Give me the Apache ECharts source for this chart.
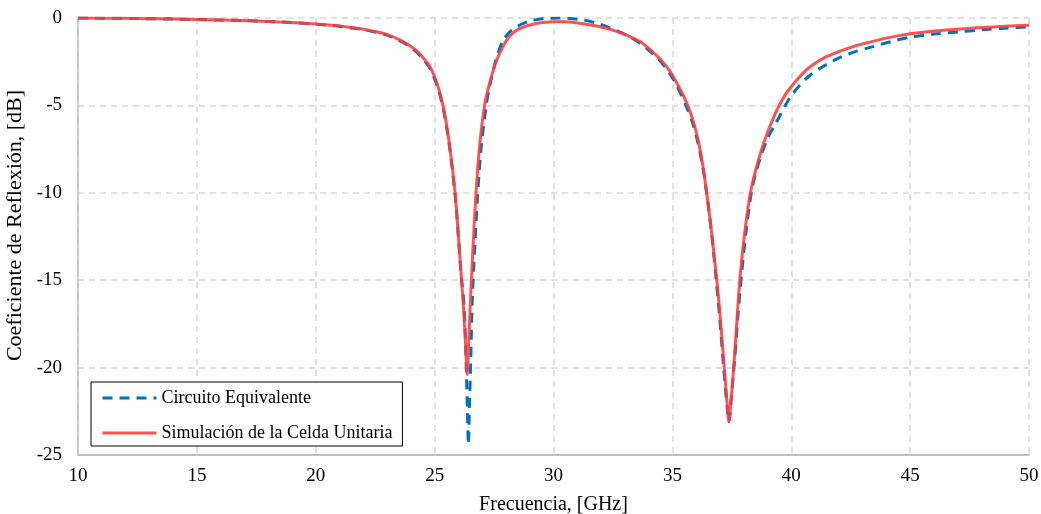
<!DOCTYPE html>
<html>
<head>
<meta charset="utf-8">
<script src="https://cdn.jsdelivr.net/npm/echarts@6/dist/echarts.min.js"></script>
<style>html,body{margin:0;padding:0;background:#fff}#c{width:1041px;height:514px}</style>
</head>
<body>
<div id="c"></div>
<script>
// Frequency (GHz) and reflection coefficient (dB)
var freqCirc = [10, 11, 12, 13, 14, 15, 16, 17, 18, 19, 20, 20.7, 21.4, 22, 22.5, 23, 23.4, 23.8, 24.2, 24.5, 24.8, 25.1, 25.35, 25.6, 25.86, 26.0, 26.11, 26.24, 26.32, 26.38, 26.42, 26.46, 26.52, 26.58, 26.68, 26.8, 26.95, 27.15, 27.3, 27.6, 27.89, 28.2, 28.59, 29.0, 29.6, 30.27, 30.8, 31.25, 31.9, 32.52, 33.1, 33.64, 34.1, 34.48, 34.85, 35.18, 35.6, 35.85, 36.05, 36.25, 36.4, 36.65, 36.83, 37.0, 37.15, 37.3, 37.38, 37.46, 37.62, 37.76, 37.9, 38.1, 38.32, 38.5, 38.75, 39.0, 39.25, 39.5, 39.75, 40.0, 40.37, 40.8, 41.3, 41.77, 42.05, 42.7, 43.44, 44.2, 45, 46, 47, 48, 49, 50];
var dbCirc   = [0, -0.01, -0.02, -0.04, -0.06, -0.09, -0.12, -0.15, -0.2, -0.26, -0.35, -0.43, -0.55, -0.66, -0.8, -0.98, -1.2, -1.5, -1.9, -2.33, -2.88, -3.85, -5.1, -7.1, -10.1, -12.5, -14.6, -16.5, -19.5, -22.5, -24.4, -22.5, -19.5, -16.3, -13.3, -10.3, -7.5, -5.2, -4.0, -2.3, -1.26, -0.75, -0.4, -0.17, -0.03, 0, -0.04, -0.11, -0.33, -0.65, -1.0, -1.45, -1.95, -2.45, -3.1, -3.85, -5.1, -6.0, -7.0, -8.3, -9.6, -12.3, -14.8, -17.3, -19.9, -22.2, -23.1, -22.0, -19.5, -17.0, -14.8, -12.2, -10.0, -8.9, -7.8, -6.9, -6.25, -5.65, -5.0, -4.45, -3.83, -3.26, -2.8, -2.45, -2.25, -1.92, -1.64, -1.35, -1.1, -0.92, -0.8, -0.68, -0.58, -0.5];

var freqSim = [10, 11, 12, 13, 14, 15, 16, 17, 18, 19, 20, 20.7, 21.4, 22, 22.5, 23, 23.4, 23.8, 24.2, 24.5, 24.8, 25.1, 25.35, 25.6, 25.86, 26.0, 26.11, 26.2, 26.3, 26.37, 26.44, 26.51, 26.6, 26.74, 26.9, 27.1, 27.26, 27.61, 28.03, 28.3, 28.59, 29.3, 30.0, 30.5, 31.1, 31.8, 32.5, 33.1, 33.64, 34.1, 34.48, 34.85, 35.18, 35.45, 35.67, 35.9, 36.1, 36.3, 36.44, 36.65, 36.86, 37.0, 37.17, 37.3, 37.38, 37.46, 37.59, 37.72, 37.84, 38.05, 38.28, 38.5, 38.75, 39.0, 39.25, 39.5, 39.75, 40.0, 40.25, 40.5, 40.79, 41.1, 41.5, 42, 42.5, 43, 44, 45, 46, 47, 48, 49, 50];
var dbSim   = [0, -0.01, -0.02, -0.04, -0.06, -0.09, -0.12, -0.15, -0.2, -0.26, -0.34, -0.42, -0.53, -0.64, -0.78, -0.95, -1.16, -1.45, -1.83, -2.25, -2.78, -3.74, -5.0, -7.0, -10.0, -12.5, -14.6, -16.3, -18.6, -20.4, -18.3, -16.1, -13.5, -10.0, -7.2, -5.0, -4.0, -2.4, -1.26, -0.85, -0.59, -0.3, -0.21, -0.22, -0.3, -0.46, -0.69, -1.0, -1.35, -1.85, -2.35, -2.95, -3.7, -4.4, -5.1, -6.0, -7.1, -8.6, -10.0, -12.3, -14.9, -16.9, -19.8, -22.0, -23.1, -22.0, -19.8, -17.2, -14.9, -12.2, -10.0, -8.72, -7.54, -6.55, -5.71, -4.98, -4.38, -3.93, -3.52, -3.15, -2.8, -2.5, -2.2, -1.92, -1.68, -1.48, -1.15, -0.9, -0.75, -0.64, -0.55, -0.47, -0.41];

var seriesNames = ['Circuito Equivalente', 'Simulación de la Celda Unitaria'];
var xTitle = 'Frecuencia, [GHz]';
var yTitle = 'Coeficiente de Reflexión, [dB]';

function pairs(xs, ys) { return xs.map(function (x, i) { return [x, ys[i]]; }); }

var font = 'Liberation Serif, Times New Roman, serif';
var chart = echarts.init(document.getElementById('c'), null, {renderer: 'canvas'});
chart.setOption({
  animation: false,
  backgroundColor: '#fff',
  grid: {left: 78, right: 12, top: 18, bottom: 59, containLabel: false, outerBoundsMode: 'none'},
  legend: {
    orient: 'vertical', left: 91, top: 382,
    backgroundColor: '#fff', borderColor: '#000', borderWidth: 1,
    padding: [7, 10, 4, 10], itemGap: 17, itemWidth: 54, itemHeight: 18,
    textStyle: {fontFamily: font, fontSize: 18, color: '#000'},
    itemStyle: {opacity: 0},
    lineStyle: {width: 3},
    data: seriesNames
  },
  xAxis: {
    type: 'value', min: 10, max: 50, interval: 5,
    name: xTitle, nameLocation: 'middle', nameGap: 40,
    nameTextStyle: {fontFamily: font, fontSize: 20, color: '#000'},
    axisLine: {show: true, onZero: false, lineStyle: {color: '#bfbfbf', width: 2}},
    axisTick: {show: false},
    axisLabel: {fontFamily: font, fontSize: 19, color: '#000', margin: 12},
    splitLine: {show: true, lineStyle: {color: '#d9d9d9', type: [6, 5], width: 1.5}}
  },
  yAxis: {
    type: 'value', min: -25, max: 0, interval: 5,
    name: yTitle, nameLocation: 'middle', nameGap: 47, nameRotate: 90,
    nameTextStyle: {fontFamily: font, fontSize: 22, color: '#000', padding: [0, 0, 0, 22]},
    axisLine: {show: true, onZero: false, lineStyle: {color: '#bfbfbf', width: 1.5}},
    axisTick: {show: false},
    axisLabel: {fontFamily: font, fontSize: 19, color: '#000', margin: 16},
    splitLine: {show: true, lineStyle: {color: '#d9d9d9', type: [6, 5], width: 1.5}}
  },
  series: [
    {
      name: seriesNames[0], type: 'line', data: pairs(freqCirc, dbCirc),
      symbol: 'none', smooth: 0.3,
      lineStyle: {color: '#0070c0', width: 3, type: [10, 7]},
      itemStyle: {color: '#0070c0'}
    },
    {
      name: seriesNames[1], type: 'line', data: pairs(freqSim, dbSim),
      symbol: 'none', smooth: 0.3,
      lineStyle: {color: '#ff3b3b', width: 3, opacity: 0.88},
      itemStyle: {color: '#ff3b3b'}
    }
  ]
});
</script>
</body>
</html>
